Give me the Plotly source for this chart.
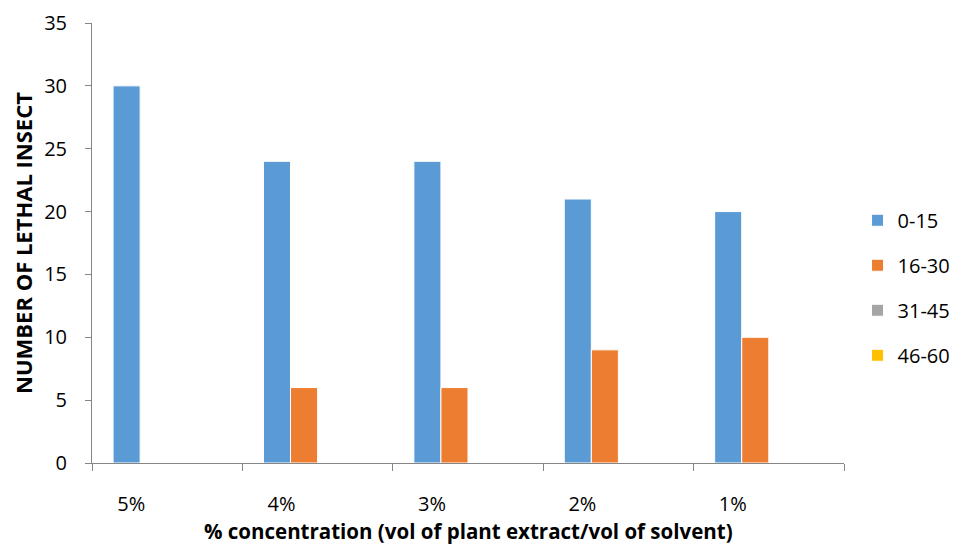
import plotly.graph_objects as go

categories = ["5%", "4%", "3%", "2%", "1%"]
series_names = ["0-15", "16-30", "31-45", "46-60"]
s_0_15 = [30, 24, 24, 21, 20]
s_16_30 = [0, 6, 6, 9, 10]
s_31_45 = [0, 0, 0, 0, 0]
s_46_60 = [0, 0, 0, 0, 0]
y_ticks = [0, 5, 10, 15, 20, 25, 30, 35]
x_title = "% concentration (vol of plant extract/vol of solvent)"
y_title = "NUMBER OF LETHAL INSECT"

colors = ["#5B9BD5", "#ED7D31", "#A5A5A5", "#FFC000"]
values = [s_0_15, s_16_30, s_31_45, s_46_60]

font_family = "Open Sans, Liberation Sans, sans-serif"

fig = go.Figure()
for i, (name, vals) in enumerate(zip(series_names, values)):
    fig.add_trace(go.Bar(
        x=categories, y=vals, name=name,
        marker=dict(color=colors[i], line=dict(color="white", width=1)),
        legendgroup=name,
    ))

axis_color = "#868686"
fig.update_layout(
    width=958, height=536,
    paper_bgcolor="white", plot_bgcolor="white",
    margin=dict(l=84, r=122, t=15, b=81, autoexpand=False),
    barmode="group", bargap=0.28, bargroupgap=0,
    font=dict(family=font_family, size=19, color="#000000"),
    legend=dict(x=1.018, y=0.596, xanchor="left", yanchor="top",
                tracegroupgap=16, font=dict(size=20),
                itemwidth=30),
    showlegend=True,
    xaxis=dict(
        automargin=False,
        showline=True, linecolor=axis_color, linewidth=1,
        ticks="outside", tickson="boundaries", ticklen=7, tickcolor=axis_color,
        tickfont=dict(size=20),
        ticklabelshift=-36, ticklabelstandoff=23,
        showgrid=False,
    ),
    yaxis=dict(
        automargin=False,
        range=[0, 35], tickvals=y_ticks,
        showline=True, linecolor=axis_color, linewidth=1,
        ticks="outside", ticklen=6, tickcolor=axis_color,
        tickfont=dict(size=20), ticklabelstandoff=14,
        showgrid=False, zeroline=False,
        title=dict(text="<b>" + y_title + "</b>", font=dict(size=22), standoff=18),
    ),
    annotations=[dict(
        text="<b>" + x_title + "</b>", xref="paper", yref="paper",
        x=0.5, y=-0.154, xanchor="center", yanchor="middle",
        showarrow=False, font=dict(size=20.5),
    )],
)

fig.write_html("out.html")
